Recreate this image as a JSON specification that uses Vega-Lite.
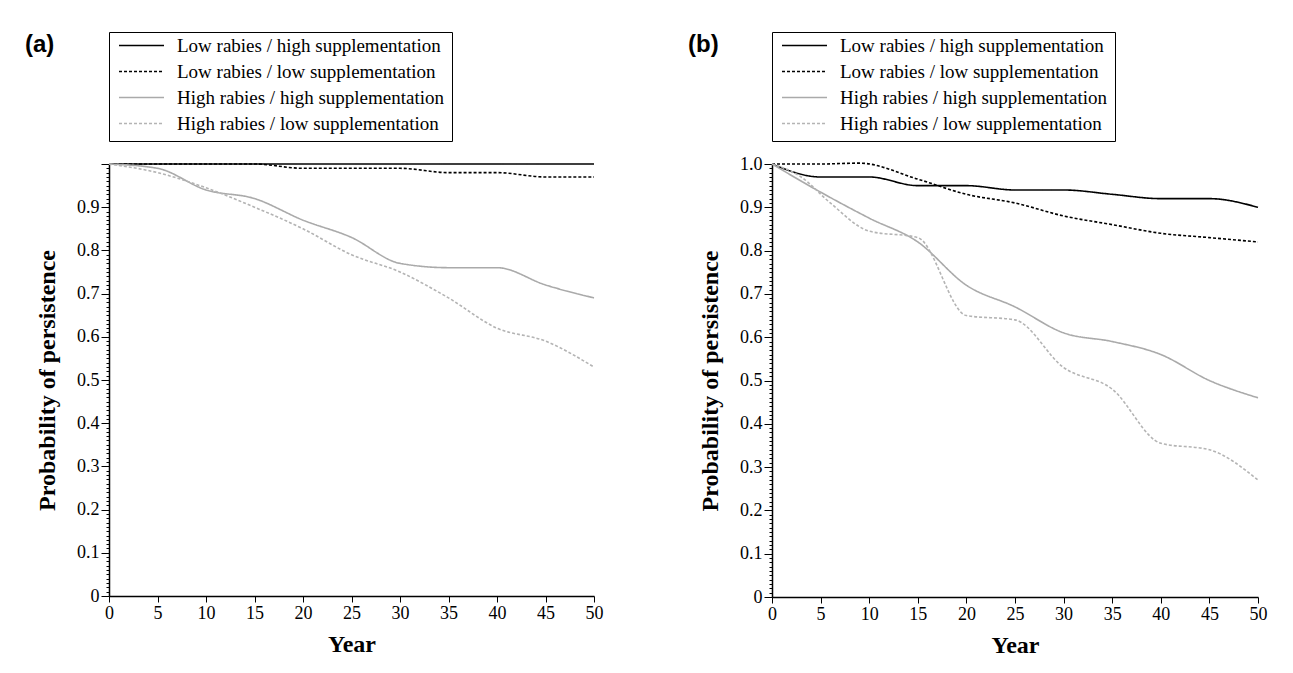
{
  "$schema": "https://vega.github.io/schema/vega-lite/v6.json",
  "background": "white",
  "padding": {"left": 25, "top": 31, "right": 5, "bottom": 5},
  "config": {"view": {"stroke": null}, "font": "Liberation Serif", "axis": {"labelFont": "Liberation Serif", "titleFont": "Liberation Serif"}},
  "spacing": 178,
  "bounds": "flush",
  "datasets": {
    "rows": [
      {"panel": "a", "series": "Low rabies / high supplementation", "year": 0, "p": 1.0},
      {"panel": "a", "series": "Low rabies / high supplementation", "year": 10, "p": 1.0},
      {"panel": "a", "series": "Low rabies / high supplementation", "year": 20, "p": 1.0},
      {"panel": "a", "series": "Low rabies / high supplementation", "year": 30, "p": 1.0},
      {"panel": "a", "series": "Low rabies / high supplementation", "year": 40, "p": 1.0},
      {"panel": "a", "series": "Low rabies / high supplementation", "year": 50, "p": 1.0},
      {"panel": "a", "series": "Low rabies / low supplementation", "year": 0, "p": 1.0},
      {"panel": "a", "series": "Low rabies / low supplementation", "year": 5, "p": 1.0},
      {"panel": "a", "series": "Low rabies / low supplementation", "year": 10, "p": 1.0},
      {"panel": "a", "series": "Low rabies / low supplementation", "year": 15, "p": 1.0},
      {"panel": "a", "series": "Low rabies / low supplementation", "year": 20, "p": 0.99},
      {"panel": "a", "series": "Low rabies / low supplementation", "year": 25, "p": 0.99},
      {"panel": "a", "series": "Low rabies / low supplementation", "year": 30, "p": 0.99},
      {"panel": "a", "series": "Low rabies / low supplementation", "year": 35, "p": 0.98},
      {"panel": "a", "series": "Low rabies / low supplementation", "year": 40, "p": 0.98},
      {"panel": "a", "series": "Low rabies / low supplementation", "year": 45, "p": 0.97},
      {"panel": "a", "series": "Low rabies / low supplementation", "year": 50, "p": 0.97},
      {"panel": "a", "series": "High rabies / high supplementation", "year": 0, "p": 1.0},
      {"panel": "a", "series": "High rabies / high supplementation", "year": 5, "p": 0.99},
      {"panel": "a", "series": "High rabies / high supplementation", "year": 10, "p": 0.94},
      {"panel": "a", "series": "High rabies / high supplementation", "year": 15, "p": 0.92},
      {"panel": "a", "series": "High rabies / high supplementation", "year": 20, "p": 0.87},
      {"panel": "a", "series": "High rabies / high supplementation", "year": 25, "p": 0.83},
      {"panel": "a", "series": "High rabies / high supplementation", "year": 30, "p": 0.77},
      {"panel": "a", "series": "High rabies / high supplementation", "year": 35, "p": 0.76},
      {"panel": "a", "series": "High rabies / high supplementation", "year": 40, "p": 0.76},
      {"panel": "a", "series": "High rabies / high supplementation", "year": 45, "p": 0.72},
      {"panel": "a", "series": "High rabies / high supplementation", "year": 50, "p": 0.69},
      {"panel": "a", "series": "High rabies / low supplementation", "year": 0, "p": 1.0},
      {"panel": "a", "series": "High rabies / low supplementation", "year": 5, "p": 0.98},
      {"panel": "a", "series": "High rabies / low supplementation", "year": 10, "p": 0.945},
      {"panel": "a", "series": "High rabies / low supplementation", "year": 15, "p": 0.9},
      {"panel": "a", "series": "High rabies / low supplementation", "year": 20, "p": 0.85},
      {"panel": "a", "series": "High rabies / low supplementation", "year": 25, "p": 0.79},
      {"panel": "a", "series": "High rabies / low supplementation", "year": 30, "p": 0.75},
      {"panel": "a", "series": "High rabies / low supplementation", "year": 35, "p": 0.69},
      {"panel": "a", "series": "High rabies / low supplementation", "year": 40, "p": 0.62},
      {"panel": "a", "series": "High rabies / low supplementation", "year": 45, "p": 0.59},
      {"panel": "a", "series": "High rabies / low supplementation", "year": 50, "p": 0.53},
      {"panel": "b", "series": "Low rabies / high supplementation", "year": 0, "p": 1.0},
      {"panel": "b", "series": "Low rabies / high supplementation", "year": 5, "p": 0.97},
      {"panel": "b", "series": "Low rabies / high supplementation", "year": 10, "p": 0.97},
      {"panel": "b", "series": "Low rabies / high supplementation", "year": 15, "p": 0.95},
      {"panel": "b", "series": "Low rabies / high supplementation", "year": 20, "p": 0.95},
      {"panel": "b", "series": "Low rabies / high supplementation", "year": 25, "p": 0.94},
      {"panel": "b", "series": "Low rabies / high supplementation", "year": 30, "p": 0.94},
      {"panel": "b", "series": "Low rabies / high supplementation", "year": 35, "p": 0.93},
      {"panel": "b", "series": "Low rabies / high supplementation", "year": 40, "p": 0.92},
      {"panel": "b", "series": "Low rabies / high supplementation", "year": 45, "p": 0.92},
      {"panel": "b", "series": "Low rabies / high supplementation", "year": 50, "p": 0.9},
      {"panel": "b", "series": "Low rabies / low supplementation", "year": 0, "p": 1.0},
      {"panel": "b", "series": "Low rabies / low supplementation", "year": 5, "p": 1.0},
      {"panel": "b", "series": "Low rabies / low supplementation", "year": 9, "p": 1.002},
      {"panel": "b", "series": "Low rabies / low supplementation", "year": 15, "p": 0.965},
      {"panel": "b", "series": "Low rabies / low supplementation", "year": 20, "p": 0.93},
      {"panel": "b", "series": "Low rabies / low supplementation", "year": 25, "p": 0.91},
      {"panel": "b", "series": "Low rabies / low supplementation", "year": 30, "p": 0.88},
      {"panel": "b", "series": "Low rabies / low supplementation", "year": 35, "p": 0.86},
      {"panel": "b", "series": "Low rabies / low supplementation", "year": 40, "p": 0.84},
      {"panel": "b", "series": "Low rabies / low supplementation", "year": 45, "p": 0.83},
      {"panel": "b", "series": "Low rabies / low supplementation", "year": 50, "p": 0.82},
      {"panel": "b", "series": "High rabies / high supplementation", "year": 0, "p": 1.0},
      {"panel": "b", "series": "High rabies / high supplementation", "year": 5, "p": 0.935},
      {"panel": "b", "series": "High rabies / high supplementation", "year": 10, "p": 0.875},
      {"panel": "b", "series": "High rabies / high supplementation", "year": 15, "p": 0.82},
      {"panel": "b", "series": "High rabies / high supplementation", "year": 20, "p": 0.72},
      {"panel": "b", "series": "High rabies / high supplementation", "year": 25, "p": 0.67},
      {"panel": "b", "series": "High rabies / high supplementation", "year": 30, "p": 0.61},
      {"panel": "b", "series": "High rabies / high supplementation", "year": 35, "p": 0.59},
      {"panel": "b", "series": "High rabies / high supplementation", "year": 40, "p": 0.56},
      {"panel": "b", "series": "High rabies / high supplementation", "year": 45, "p": 0.5},
      {"panel": "b", "series": "High rabies / high supplementation", "year": 50, "p": 0.46},
      {"panel": "b", "series": "High rabies / low supplementation", "year": 0, "p": 1.0},
      {"panel": "b", "series": "High rabies / low supplementation", "year": 3, "p": 0.97},
      {"panel": "b", "series": "High rabies / low supplementation", "year": 6, "p": 0.91},
      {"panel": "b", "series": "High rabies / low supplementation", "year": 10, "p": 0.845},
      {"panel": "b", "series": "High rabies / low supplementation", "year": 15, "p": 0.83},
      {"panel": "b", "series": "High rabies / low supplementation", "year": 20, "p": 0.65},
      {"panel": "b", "series": "High rabies / low supplementation", "year": 25, "p": 0.64},
      {"panel": "b", "series": "High rabies / low supplementation", "year": 30, "p": 0.53},
      {"panel": "b", "series": "High rabies / low supplementation", "year": 35, "p": 0.48},
      {"panel": "b", "series": "High rabies / low supplementation", "year": 40, "p": 0.355},
      {"panel": "b", "series": "High rabies / low supplementation", "year": 45, "p": 0.34},
      {"panel": "b", "series": "High rabies / low supplementation", "year": 50, "p": 0.27}
    ]
  },
  "hconcat": [
    {
      "width": 485,
      "height": 432,
      "data": {"name": "rows"},
      "transform": [{"filter": "datum.panel == 'a'"}],
      "title": {"text": "(a)", "anchor": "start", "frame": "group", "font": "Liberation Sans", "fontSize": 24, "fontWeight": "bold", "color": "black", "dx": -84, "offset": -25},
      "mark": {"type": "line", "interpolate": "monotone", "clip": false},
      "encoding": {
        "x": {"field": "year", "type": "quantitative", "scale": {"domain": [0, 50], "nice": false},
          "axis": {"title": "Year", "values": [0, 5, 10, 15, 20, 25, 30, 35, 40, 45, 50], "format": "d", "grid": false,
            "labelFont": "Liberation Serif", "labelFontSize": 18, "labelColor": "black", "labelPadding": 2, "labelFlush": false,
            "tickSize": 6, "tickColor": "black", "domainColor": "black", "domainWidth": 1.5,
            "titleFont": "Liberation Serif", "titleFontSize": 24, "titleFontWeight": "bold", "titleColor": "black", "titlePadding": 10}},
        "y": {"field": "p", "type": "quantitative", "scale": {"domain": [0, 1], "nice": false},
          "axis": {"title": "Probability of persistence", "grid": false,
            "values": [0,0.01,0.02,0.03,0.04,0.05,0.06,0.07,0.08,0.09,0.1,0.11,0.12,0.13,0.14,0.15,0.16,0.17,0.18,0.19,0.2,0.21,0.22,0.23,0.24,0.25,0.26,0.27,0.28,0.29,0.3,0.31,0.32,0.33,0.34,0.35,0.36,0.37,0.38,0.39,0.4,0.41,0.42,0.43,0.44,0.45,0.46,0.47,0.48,0.49,0.5,0.51,0.52,0.53,0.54,0.55,0.56,0.57,0.58,0.59,0.6,0.61,0.62,0.63,0.64,0.65,0.66,0.67,0.68,0.69,0.7,0.71,0.72,0.73,0.74,0.75,0.76,0.77,0.78,0.79,0.8,0.81,0.82,0.83,0.84,0.85,0.86,0.87,0.88,0.89,0.9,0.91,0.92,0.93,0.94,0.95,0.96,0.97,0.98,0.99,1],
            "labelExpr": "abs(datum.value*10 - round(datum.value*10)) < 0.001 && datum.value < 0.999 ? (datum.value == 0 ? '0' : format(datum.value, '.1f')) : ''",
            "labelOverlap": false, "labelFlush": false, "labelBound": false,
            "labelFont": "Liberation Serif", "labelFontSize": 18, "labelColor": "black", "labelPadding": 2,
            "tickSize": {"condition": {"test": "abs(datum.value*10 - round(datum.value*10)) < 0.001", "value": 8}, "value": 3},
            "tickColor": "black", "domainColor": "black", "domainWidth": 1.5,
            "titleFont": "Liberation Serif", "titleFontSize": 24, "titleFontWeight": "bold", "titleColor": "black", "titlePadding": 17}},
        "color": {"field": "series", "type": "nominal",
          "scale": {"domain": ["Low rabies / high supplementation", "Low rabies / low supplementation", "High rabies / high supplementation", "High rabies / low supplementation"], "range": ["#000000", "#000000", "#aaaaaa", "#b4b4b4"]},
          "legend": {"title": null, "orient": "none", "legendX": 0, "legendY": -132, "strokeColor": "black", "fillColor": "white", "padding": 7,
            "symbolType": "stroke", "symbolSize": 2025, "symbolOffset": 2, "labelFont": "Liberation Serif", "labelFontSize": 19, "labelColor": "black",
            "labelOffset": 12, "clipHeight": 13, "rowPadding": 6, "labelLimit": 400}},
        "strokeDash": {"field": "series", "type": "nominal",
          "scale": {"domain": ["Low rabies / high supplementation", "Low rabies / low supplementation", "High rabies / high supplementation", "High rabies / low supplementation"], "range": [[1, 0], [3, 2], [1, 0], [3, 2]]}},
        "strokeWidth": {"field": "series", "type": "nominal",
          "scale": {"domain": ["Low rabies / high supplementation", "Low rabies / low supplementation", "High rabies / high supplementation", "High rabies / low supplementation"], "range": [1.6, 1.6, 1.3, 1.3]}}
      }
    },
    {
      "width": 486,
      "height": 433,
      "data": {"name": "rows"},
      "transform": [{"filter": "datum.panel == 'b'"}],
      "title": {"text": "(b)", "anchor": "start", "frame": "group", "font": "Liberation Sans", "fontSize": 24, "fontWeight": "bold", "color": "black", "dx": -84, "offset": -25},
      "mark": {"type": "line", "interpolate": "monotone", "clip": false},
      "encoding": {
        "x": {"field": "year", "type": "quantitative", "scale": {"domain": [0, 50], "nice": false},
          "axis": {"title": "Year", "values": [0, 5, 10, 15, 20, 25, 30, 35, 40, 45, 50], "format": "d", "grid": false,
            "labelFont": "Liberation Serif", "labelFontSize": 18, "labelColor": "black", "labelPadding": 2, "labelFlush": false,
            "tickSize": 6, "tickColor": "black", "domainColor": "black", "domainWidth": 1.5,
            "titleFont": "Liberation Serif", "titleFontSize": 24, "titleFontWeight": "bold", "titleColor": "black", "titlePadding": 10}},
        "y": {"field": "p", "type": "quantitative", "scale": {"domain": [0, 1], "nice": false},
          "axis": {"title": "Probability of persistence", "grid": false,
            "values": [0,0.01,0.02,0.03,0.04,0.05,0.06,0.07,0.08,0.09,0.1,0.11,0.12,0.13,0.14,0.15,0.16,0.17,0.18,0.19,0.2,0.21,0.22,0.23,0.24,0.25,0.26,0.27,0.28,0.29,0.3,0.31,0.32,0.33,0.34,0.35,0.36,0.37,0.38,0.39,0.4,0.41,0.42,0.43,0.44,0.45,0.46,0.47,0.48,0.49,0.5,0.51,0.52,0.53,0.54,0.55,0.56,0.57,0.58,0.59,0.6,0.61,0.62,0.63,0.64,0.65,0.66,0.67,0.68,0.69,0.7,0.71,0.72,0.73,0.74,0.75,0.76,0.77,0.78,0.79,0.8,0.81,0.82,0.83,0.84,0.85,0.86,0.87,0.88,0.89,0.9,0.91,0.92,0.93,0.94,0.95,0.96,0.97,0.98,0.99,1],
            "labelExpr": "abs(datum.value*10 - round(datum.value*10)) < 0.001 ? (datum.value == 0 ? '0' : format(datum.value, '.1f')) : ''",
            "labelOverlap": false, "labelFlush": false, "labelBound": false,
            "labelFont": "Liberation Serif", "labelFontSize": 18, "labelColor": "black", "labelPadding": 2,
            "tickSize": {"condition": {"test": "abs(datum.value*10 - round(datum.value*10)) < 0.001", "value": 8}, "value": 3},
            "tickColor": "black", "domainColor": "black", "domainWidth": 1.5,
            "titleFont": "Liberation Serif", "titleFontSize": 24, "titleFontWeight": "bold", "titleColor": "black", "titlePadding": 17}},
        "color": {"field": "series", "type": "nominal",
          "scale": {"domain": ["Low rabies / high supplementation", "Low rabies / low supplementation", "High rabies / high supplementation", "High rabies / low supplementation"], "range": ["#000000", "#000000", "#aaaaaa", "#b4b4b4"]},
          "legend": {"title": null, "orient": "none", "legendX": 0, "legendY": -132, "strokeColor": "black", "fillColor": "white", "padding": 7,
            "symbolType": "stroke", "symbolSize": 2025, "symbolOffset": 2, "labelFont": "Liberation Serif", "labelFontSize": 19, "labelColor": "black",
            "labelOffset": 12, "clipHeight": 13, "rowPadding": 6, "labelLimit": 400}},
        "strokeDash": {"field": "series", "type": "nominal",
          "scale": {"domain": ["Low rabies / high supplementation", "Low rabies / low supplementation", "High rabies / high supplementation", "High rabies / low supplementation"], "range": [[1, 0], [3, 2], [1, 0], [3, 2]]}},
        "strokeWidth": {"field": "series", "type": "nominal",
          "scale": {"domain": ["Low rabies / high supplementation", "Low rabies / low supplementation", "High rabies / high supplementation", "High rabies / low supplementation"], "range": [1.6, 1.6, 1.3, 1.3]}}
      }
    }
  ],
  "resolve": {"scale": {"color": "independent", "strokeDash": "independent", "strokeWidth": "independent"}, "legend": {"color": "independent", "strokeDash": "independent", "strokeWidth": "independent"}}
}
